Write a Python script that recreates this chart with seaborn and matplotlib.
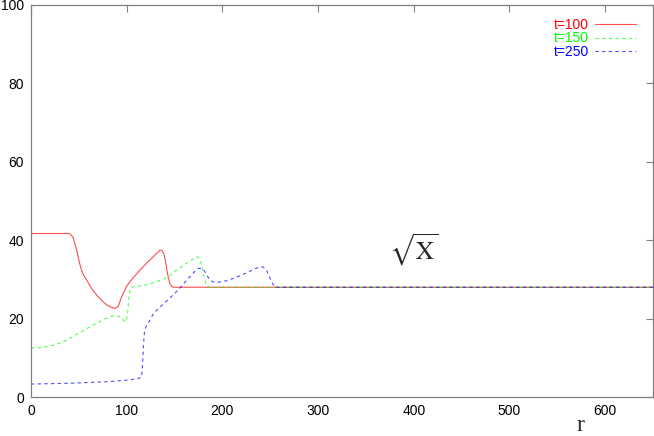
import matplotlib
matplotlib.use("Agg")
import matplotlib.pyplot as plt
import seaborn as sns
import pandas as pd

# ---- data ----
r_t100 = [0, 10, 20, 30, 38, 41, 44, 47.7, 51.2, 54, 58.2, 63, 68.6, 74, 79, 84, 87.8, 91.3,
          94.7, 100, 107, 114, 121, 128, 132, 135, 137, 139, 141, 143, 145, 147, 149, 152, 160, 650]
v_t100 = [41.7, 41.7, 41.7, 41.7, 41.7, 41.6, 40.7, 37.5, 33.7, 31.5, 29.8, 27.8, 26.0, 24.6,
          23.5, 22.9, 22.6, 23.2, 25.6, 28.3, 30.5, 32.4, 34.2, 35.8, 36.8, 37.5, 37.3, 36.4,
          34.0, 31.0, 29.0, 28.2, 28.0, 28.0, 28.0, 28.0]

r_t150 = [0, 10, 20, 30, 37, 45, 53, 61, 70, 78, 86, 90, 94, 97, 99.5, 101, 102.5, 104, 110,
          117, 125, 132, 138, 145, 150, 156, 162, 168, 172, 174, 176.5, 178.5, 180.5, 182.5,
          184, 186, 650]
v_t150 = [12.5, 12.6, 13.0, 13.7, 14.5, 15.6, 16.7, 17.8, 19.0, 20.0, 20.7, 20.7, 20.4, 19.5,
          19.2, 21.5, 26.0, 28.0, 28.2, 28.4, 28.9, 29.5, 30.0, 31.0, 32.0, 33.0, 34.0, 35.0,
          35.6, 35.8, 35.3, 33.5, 31.0, 29.0, 28.2, 28.0, 28.0]

r_t250 = [0, 20, 40, 60, 80, 100, 110, 115.5, 116.5, 117.5, 118.5, 120, 124, 128, 135, 145, 155,
          162, 168, 172, 175, 178, 181, 184, 187, 191, 197, 205, 212, 220, 228, 235, 240, 243,
          246, 249, 251.5, 253.5, 255, 258, 650]
v_t250 = [3.3, 3.4, 3.5, 3.7, 3.9, 4.3, 4.6, 5.0, 8.0, 13.0, 16.5, 17.8, 19.5, 21.3, 23.0, 25.2,
          27.6, 29.6, 31.2, 32.3, 32.8, 32.8, 32.2, 31.0, 29.8, 29.3, 29.3, 29.7, 30.3, 31.1,
          32.0, 32.8, 33.2, 33.1, 32.4, 30.8, 29.4, 28.5, 28.0, 28.0, 28.0]

series_labels = ["t=100", "t=150", "t=250"]
series_colors = ["#ff0000", "#00ff00", "#0000ff"]
x_ticks = [0, 100, 200, 300, 400, 500, 600]
y_ticks = [0, 20, 40, 60, 80, 100]

sns.set_style("white")
plt.rcParams["font.family"] = ["Liberation Sans", "DejaVu Sans"]
plt.rcParams["mathtext.fontset"] = "stix"

fig = plt.figure(figsize=(6.54, 4.36), dpi=100)
ax = fig.add_axes([31 / 654, 39 / 436, 622 / 654, 392 / 436])

all_r = [r_t100, r_t150, r_t250]
all_v = [v_t100, v_t150, v_t250]
styles = [None, (3, 3), (3, 3)]
for rr, vv, lab, col, dash in zip(all_r, all_v, series_labels, series_colors, styles):
    df = pd.DataFrame({"r": rr, "v": vv})
    sns.lineplot(data=df, x="r", y="v", color=col, linewidth=0.8, label=lab, ax=ax, alpha=0.7)
    if dash is not None:
        ax.lines[-1].set_dashes(dash)

ax.set_xlim(0, 650)
ax.set_ylim(0, 100)
ax.set_xticks(x_ticks)
ax.set_yticks(y_ticks)
ax.tick_params(direction="in", length=5, width=0.8, color="#808080",
               top=True, right=True, labelsize=10, pad=5, labelcolor="black")
for sp in ax.spines.values():
    sp.set_color("#808080")
    sp.set_linewidth(0.9)

ax.set_ylabel("")
ax.set_xlabel("r", family=["Liberation Serif"], fontsize=17)
ax.xaxis.set_label_coords(0.883, -0.045)

ax.text(400, 37.5, r"$\sqrt{\mathrm{X}}$", fontsize=18, ha="center", va="center")

leg = ax.legend(loc="upper right", bbox_to_anchor=(0.99, 0.995), frameon=False,
                markerfirst=False, fontsize=10, handlelength=2.9, handletextpad=0.45,
                labelspacing=-0.05, borderpad=0.3)
for txt, col in zip(leg.get_texts(), series_colors):
    txt.set_color(col)

fig.savefig("out.png", dpi=100)
